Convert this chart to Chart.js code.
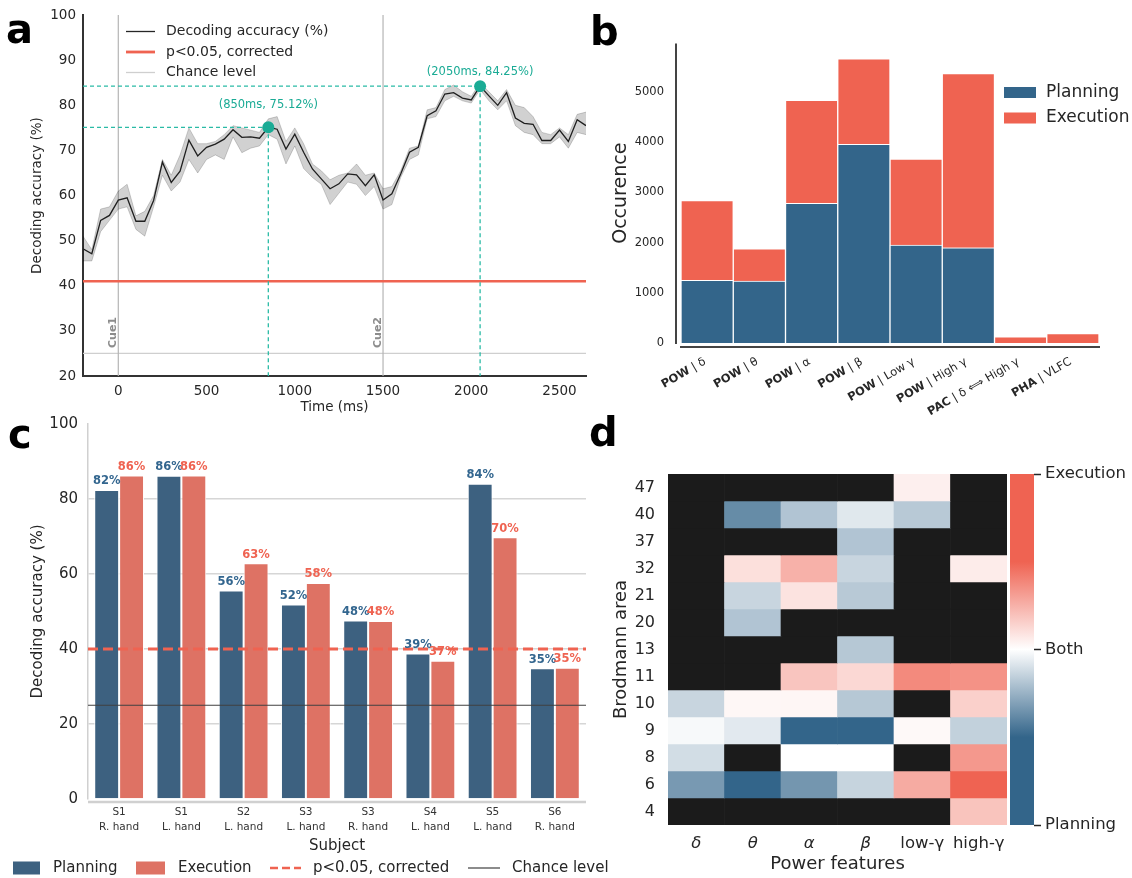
<!DOCTYPE html>
<html><head><meta charset="utf-8">
<script src="https://cdn.jsdelivr.net/npm/chart.js@4.4.1/dist/chart.umd.min.js"></script>
<style>
html,body{margin:0;padding:0;background:#fff;}
#wrap{position:relative;width:1132px;height:878px;overflow:hidden;background:#fff;}
canvas{position:absolute;}
.lt{position:absolute;font-family:'DejaVu Sans',sans-serif;font-weight:bold;font-size:40px;line-height:40px;color:#000;}
</style></head><body>
<div id="wrap">
<canvas id="ca" width="600" height="420" style="left:0;top:0"></canvas>
<canvas id="cb" width="532" height="420" style="left:600px;top:0"></canvas>
<canvas id="cc" width="630" height="473" style="left:0;top:405px"></canvas>
<canvas id="cd" width="532" height="448" style="left:600px;top:430px"></canvas>
<canvas id="ce" width="132" height="448" style="left:1000px;top:430px"></canvas>
<div class="lt" style="left:6px;top:9px">a</div>
<div class="lt" style="left:590px;top:11px">b</div>
<div class="lt" style="left:8px;top:414px">c</div>
<div class="lt" style="left:589px;top:412px">d</div>
</div>
<script>
// ---------- Panel a data ----------
const timeMs = [-200,-150,-100,-50,0,50,100,150,200,250,300,350,400,450,500,550,600,650,700,750,800,850,900,950,1000,1050,1100,1150,1200,1250,1300,1350,1400,1450,1500,1550,1600,1650,1700,1750,1800,1850,1900,1950,2000,2050,2100,2150,2200,2250,2300,2350,2400,2450,2500,2550,2600,2650];
const accMean = [48.2,47.1,54.5,55.6,59.0,59.5,54.3,54.3,58.9,67.4,62.9,65.4,72.3,68.8,70.7,71.4,72.5,74.6,72.9,73.0,72.7,75.12,74.7,70.3,73.6,69.6,65.9,63.7,61.5,62.6,64.8,64.6,62.2,64.6,59.0,60.4,64.8,69.6,70.7,77.7,78.8,82.5,82.8,81.6,81.2,84.25,82.1,80.0,82.8,77.2,76.0,75.8,72.2,72.2,74.5,72.0,76.8,75.5];
const accLower = [45.5,45.5,52,54.5,57,57.5,52.5,51,57.5,64.5,61,63,68,65,68,69,68,73,69.5,70.5,71,73.5,72.5,67,71,66,64,62.5,58,60.5,63,62.5,60,62,57,58,64,68,69,77,77.5,81,82,81,80.5,83.5,81,79,81,75.5,74,73.5,71.5,71.5,73,70.5,74,73.5];
const accUpper = [51,48,57,57.5,61,62.5,55.5,56.5,60,68,64.5,69,75,71.5,71.5,72,73.5,75.5,75,74.5,74,77,77.5,72,75,71.5,67,65.5,63.5,64.5,65,67,64.5,65,61.5,62,65.5,70.5,71,79,79.5,83.5,84.5,83,82,85,83,81,83.5,80,79.5,77.5,74,73.5,75,73.5,78,78.5];
const peakTimes = [850, 2050];
const peakValues = [75.12, 84.25];
const peakTextY = [80.1, 87.3];
const peakTexts = ['(850ms, 75.12%)', '(2050ms, 84.25%)'];
const cueTimes = [0, 1500];
const cueLabels = ['Cue1', 'Cue2'];
const sigLevelA = 41;
const chanceA = 25;
const aXTicks = [0, 500, 1000, 1500, 2000, 2500];
const aYTicks = [20, 30, 40, 50, 60, 70, 80, 90, 100];
const aLegend = ['Decoding accuracy (%)', 'p<0.05, corrected', 'Chance level'];

// ---------- Panel b data ----------
const bCatBold = ['POW','POW','POW','POW','POW','POW','PAC','PHA'];
const bCatRest = [' | δ',' | θ',' | α',' | β',' | Low γ',' | High γ',' | δ ⟺ High γ',' | VLFC'];
const bPlanning = [1248, 1235, 2785, 3960, 1953, 1899, 0, 0];
const bExecution = [1591, 644, 2054, 1704, 1711, 3470, 121, 188];
const bYTicks = [0, 1000, 2000, 3000, 4000, 5000];

// ---------- Panel c data ----------
const cSubjects = [['S1','R. hand'],['S1','L. hand'],['S2','L. hand'],['S3','L. hand'],['S3','R. hand'],['S4','L. hand'],['S5','L. hand'],['S6','R. hand']];
const cPlanning = [82.4, 86.2, 55.6, 51.9, 47.6, 38.8, 84.1, 34.9];
const cExecution = [86.3, 86.3, 62.9, 57.6, 47.5, 36.9, 69.8, 35.0];
const cYTicks = [0, 20, 40, 60, 80, 100];
const sigLevelC = 40;
const chanceC = 25;
const cLegend = ['Planning', 'Execution', 'p<0.05, corrected', 'Chance level'];

// ---------- Panel d data ----------
const dRows = ['47','40','37','32','21','20','13','11','10','9','8','6','4'];
const dCols = ['δ','θ','α','β','low-γ','high-γ'];
const dValues = [
  [null, null, null, null, 0.05, null],
  [null, -0.375, -0.19, -0.075, -0.175, null],
  [null, null, null, -0.19, null, null],
  [null, 0.1, 0.25, -0.135, null, 0.06],
  [null, -0.135, 0.09, -0.175, null, null],
  [null, -0.19, null, null, null, null],
  [null, null, null, -0.18, null, null],
  [null, null, 0.185, 0.125, 0.375, 0.35],
  [-0.135, 0.025, 0.03, -0.18, null, 0.15],
  [-0.02, -0.07, -0.5, -0.5, 0.02, -0.15],
  [-0.11, null, 0, 0, null, 0.33],
  [-0.33, -0.5, -0.34, -0.14, 0.27, 0.5],
  [null, null, null, null, null, 0.19]
];
const cbTicks = [-1, 0, 1];
const cbLabels = ['Planning', 'Both', 'Execution'];

// ---------- styles ----------
const FONT = "'DejaVu Sans', sans-serif";
Chart.defaults.font.family = FONT;
Chart.defaults.color = '#262626';
Chart.defaults.animation = false;
Chart.defaults.plugins.legend.display = false;
Chart.defaults.plugins.tooltip.enabled = false;
const BLUE = '#33658a', RED = '#ef6351', TEAL = '#1aab95', TEAL_L = '#2bbba6';
const C_BLUE = '#3d6180', C_RED = '#de7264';
const rgbBlue = [51,101,138], rgbWhite = [255,255,255], rgbRed = [239,99,82];
const plain = v => String(v);

function line(ctx, x1, y1, x2, y2, color, w, dash) {
  ctx.save(); ctx.beginPath(); ctx.strokeStyle = color; ctx.lineWidth = w;
  ctx.setLineDash(dash || []); ctx.moveTo(x1, y1); ctx.lineTo(x2, y2); ctx.stroke(); ctx.restore();
}
function text(ctx, s, x, y, font, color, align, base) {
  ctx.save(); ctx.font = font; ctx.fillStyle = color; ctx.textAlign = align || 'left';
  ctx.textBaseline = base || 'middle'; ctx.fillText(s, x, y); ctx.restore();
}
const fixTicks = arr => s => { s.ticks = arr.map(v => ({value: v})); };

// ---------- Panel a ----------
const pts = arr => timeMs.map((t, i) => ({x: t, y: arr[i]}));
const aPlugin = {
  id: 'aDecor',
  beforeDatasetsDraw(chart) {
    const {ctx, chartArea: a, scales: {x, y}} = chart;
    line(ctx, a.left, y.getPixelForValue(chanceA), a.right, y.getPixelForValue(chanceA), '#cfcfcf', 1.2);
    cueTimes.forEach(t => { const px = x.getPixelForValue(t); line(ctx, px, a.top, px, a.bottom, '#b5b5b5', 1.2); });
    line(ctx, a.left, y.getPixelForValue(sigLevelA), a.right, y.getPixelForValue(sigLevelA), RED, 2.5);
    cueTimes.forEach((t, i) => {
      const px = x.getPixelForValue(t);
      ctx.save(); ctx.translate(px - 5, a.bottom - 28); ctx.rotate(-Math.PI / 2);
      text(ctx, cueLabels[i], 0, 0, 'bold 11px ' + FONT, '#8c8c8c', 'left', 'middle'); ctx.restore();
    });
  },
  afterDatasetsDraw(chart) {
    const {ctx, chartArea: a, scales: {x, y}} = chart;
    peakTimes.forEach((t, i) => {
      const px = x.getPixelForValue(t), py = y.getPixelForValue(peakValues[i]);
      line(ctx, a.left, py, px, py, TEAL_L, 1.3, [4, 3]);
      line(ctx, px, py, px, a.bottom, TEAL_L, 1.3, [4, 3]);
    });
    peakTimes.forEach((t, i) => {
      const px = x.getPixelForValue(t), py = y.getPixelForValue(peakValues[i]);
      ctx.save(); ctx.beginPath(); ctx.fillStyle = TEAL; ctx.arc(px, py, 6, 0, Math.PI * 2); ctx.fill(); ctx.restore();
      text(ctx, peakTexts[i], px, y.getPixelForValue(peakTextY[i]), '11.5px ' + FONT, TEAL, 'center', 'middle');
    });
    const lx = a.left + 43, ys = [31.5, 52, 72.5];
    line(ctx, lx, ys[0], lx + 29, ys[0], '#262626', 1.3);
    line(ctx, lx, ys[1], lx + 29, ys[1], RED, 2.8);
    line(ctx, lx, ys[2], lx + 29, ys[2], '#cfcfcf', 1.3);
    aLegend.forEach((s, i) => text(ctx, s, lx + 40, ys[i], '14px ' + FONT, '#262626', 'left', 'middle'));
  }
};
new Chart(document.getElementById('ca'), {
  type: 'line',
  data: {datasets: [
    {data: pts(accUpper), borderWidth: 0.8, borderColor: 'rgba(0,0,0,0.22)', pointRadius: 0, fill: false},
    {data: pts(accLower), borderWidth: 0.8, borderColor: 'rgba(0,0,0,0.22)', pointRadius: 0, fill: '-1', backgroundColor: 'rgba(0,0,0,0.18)'},
    {data: pts(accMean), borderWidth: 1.3, borderColor: '#262626', pointRadius: 0, fill: false}
  ]},
  options: {
    responsive: false, devicePixelRatio: 1,
    layout: {padding: {left: 25, top: 14, right: 14, bottom: 0}},
    scales: {
      x: {type: 'linear', min: -200, max: 2650, afterBuildTicks: fixTicks(aXTicks), afterFit: s => { s.height = 44; },
        grid: {display: false, drawTicks: false}, border: {display: true, color: '#333', width: 2},
        ticks: {font: {size: 13.5}, padding: 7, color: '#262626', maxRotation: 0, callback: plain},
        title: {display: true, text: 'Time (ms)', font: {size: 13.5}, color: '#262626', padding: {top: 0, bottom: 4}}},
      y: {min: 20, max: 100, afterBuildTicks: fixTicks(aYTicks), afterFit: s => { s.width = 58; },
        grid: {display: false, drawTicks: false}, border: {display: true, color: '#333', width: 2},
        ticks: {font: {size: 13.5}, padding: 7, color: '#262626', callback: plain},
        title: {display: true, text: 'Decoding accuracy (%)', font: {size: 13.5}, color: '#262626', padding: {top: 4, bottom: 0}}}
    }
  },
  plugins: [aPlugin]
});

// ---------- Panel b ----------
const bPlugin = {
  id: 'bDecor',
  afterDraw(chart) {
    const {ctx, chartArea: a, scales: {x}} = chart;
    line(ctx, a.left - 5, a.top, a.left - 5, a.bottom + 1, '#444', 2);
    line(ctx, a.left - 1, a.bottom + 4, a.right + 1, a.bottom + 4, '#444', 2);
    bCatBold.forEach((b, i) => {
      const cx = x.getPixelForValue(i);
      ctx.save();
      ctx.translate(cx - 5, a.bottom + 13); ctx.rotate(-Math.PI / 6);
      ctx.textBaseline = 'top'; ctx.textAlign = 'left'; ctx.fillStyle = '#262626';
      ctx.font = 'bold 11.5px ' + FONT; const w1 = ctx.measureText(b).width;
      ctx.font = '11.5px ' + FONT; const w2 = ctx.measureText(bCatRest[i]).width;
      ctx.font = 'bold 11.5px ' + FONT; ctx.fillText(b, -(w1 + w2), 0);
      ctx.font = '11.5px ' + FONT; ctx.fillText(bCatRest[i], -w2, 0);
      ctx.restore();
    });
    const lx = 404, ys = [92.5, 118];
    [BLUE, RED].forEach((c, i) => { ctx.fillStyle = c; ctx.fillRect(lx, ys[i] - 5.5, 32, 11); });
    ['Planning', 'Execution'].forEach((s, i) => text(ctx, s, lx + 42, ys[i], '17px ' + FONT, '#262626', 'left', 'middle'));
  }
};
new Chart(document.getElementById('cb'), {
  type: 'bar',
  data: {labels: bCatBold.map((b, i) => b + bCatRest[i]), datasets: [
    {label: 'Planning', data: bPlanning, backgroundColor: BLUE, borderColor: '#fff', borderWidth: 1, barPercentage: 1, categoryPercentage: 1},
    {label: 'Execution', data: bExecution, backgroundColor: RED, borderColor: '#fff', borderWidth: 1, barPercentage: 1, categoryPercentage: 1}
  ]},
  options: {
    responsive: false, devicePixelRatio: 1,
    layout: {padding: {left: 10, top: 43.5, right: 33, bottom: 0}},
    scales: {
      x: {stacked: true, afterFit: s => { s.height = 77; }, ticks: {display: false}, grid: {display: false, drawTicks: false}, border: {display: false}},
      y: {stacked: true, min: 0, max: 5970, afterBuildTicks: fixTicks(bYTicks), afterFit: s => { s.width = 71; },
        grid: {display: false, drawTicks: false}, border: {display: false},
        ticks: {font: {size: 11.5}, padding: 17, color: '#262626', callback: plain},
        title: {display: true, text: 'Occurence', font: {size: 19}, color: '#262626', padding: {top: 0, bottom: 0}}}
    }
  },
  plugins: [bPlugin]
});

// ---------- Panel c ----------
const cPlugin = {
  id: 'cDecor',
  afterDatasetsDraw(chart) {
    const {ctx, chartArea: a, scales: {y}} = chart;
    line(ctx, a.left, a.bottom + 3, a.right, a.bottom + 3, '#d0d0d0', 2.5);
    line(ctx, a.left, y.getPixelForValue(chanceC), a.right, y.getPixelForValue(chanceC), '#404040', 1.2);
    line(ctx, a.left, y.getPixelForValue(sigLevelC), a.right, y.getPixelForValue(sigLevelC), RED, 3, [10, 5]);
    const vals = [cPlanning, cExecution], cols = ['#33668f', RED];
    [0, 1].forEach(d => {
      chart.getDatasetMeta(d).data.forEach((el, i) => {
        text(ctx, Math.round(vals[d][i]) + '%', el.x, el.y - 8.5, 'bold 11.5px ' + FONT, cols[d], 'center', 'middle');
      });
    });
    const ly = 463;
    ctx.fillStyle = C_BLUE; ctx.fillRect(13, ly - 6.5, 27, 13);
    ctx.fillStyle = C_RED; ctx.fillRect(136, ly - 6.5, 29, 13);
    line(ctx, 270, ly, 301, ly, RED, 2.5, [8, 4]);
    line(ctx, 468, ly, 500, ly, '#404040', 1.2);
    const lxs = [53, 178, 313, 512];
    cLegend.forEach((s, i) => text(ctx, s, lxs[i], ly, '15px ' + FONT, '#262626', 'left', 'middle'));
  }
};
new Chart(document.getElementById('cc'), {
  type: 'bar',
  data: {labels: cSubjects, datasets: [
    {label: 'Planning', data: cPlanning, backgroundColor: C_BLUE, borderColor: '#fff', borderWidth: 1, barPercentage: 1, categoryPercentage: 0.8},
    {label: 'Execution', data: cExecution, backgroundColor: C_RED, borderColor: '#fff', borderWidth: 1, barPercentage: 1, categoryPercentage: 0.8}
  ]},
  options: {
    responsive: false, devicePixelRatio: 1,
    layout: {padding: {left: 25, top: 10, right: 44, bottom: 0}},
    scales: {
      x: {afterFit: s => { s.height = 79; }, grid: {display: false, drawTicks: false}, border: {display: false},
        ticks: {font: {size: 10.5, lineHeight: 1.4}, color: '#333', padding: 6, maxRotation: 0, autoSkip: false},
        title: {display: true, text: 'Subject', font: {size: 15}, color: '#262626', padding: {top: 0, bottom: 23}}},
      y: {min: 0, max: 100, afterBuildTicks: fixTicks(cYTicks), afterFit: s => { s.width = 63; },
        grid: {drawTicks: false, lineWidth: 1.5, color: c => (c.tick && c.tick.value > 0 && c.tick.value < 100) ? '#d6d6d6' : 'rgba(0,0,0,0)'},
        border: {display: true, color: '#d0d0d0', width: 1.5},
        ticks: {font: {size: 15}, padding: 10, color: '#262626', callback: plain},
        title: {display: true, text: 'Decoding accuracy (%)', font: {size: 15}, color: '#262626', padding: {top: 4, bottom: 0}}}
    }
  },
  plugins: [cPlugin]
});

// ---------- Panel d ----------
function lerp(a, b, t) { return a.map((v, i) => Math.round(v + (b[i] - v) * t)); }
function cmap(v) {
  if (v === null) return '#1b1b1b';
  let c;
  if (v <= -0.5) c = rgbBlue;
  else if (v < 0) c = lerp(rgbWhite, rgbBlue, -v / 0.5);
  else if (v < 0.5) c = lerp(rgbWhite, rgbRed, v / 0.5);
  else c = rgbRed;
  return 'rgb(' + c.join(',') + ')';
}
new Chart(document.getElementById('cd'), {
  type: 'bar',
  data: {labels: dCols, datasets: dRows.map((r, ri) => ({
    label: r, data: dCols.map(() => [ri, ri + 1]), backgroundColor: dValues[ri].map(cmap),
    borderWidth: 0, barPercentage: 1, categoryPercentage: 1, grouped: false
  }))},
  options: {
    responsive: false, devicePixelRatio: 1,
    layout: {padding: {left: 7, top: 44, right: 125, bottom: 0}},
    scales: {
      x: {afterFit: s => { s.height = 53; }, grid: {display: false, drawTicks: false}, border: {display: false},
        ticks: {font: c => ({size: 16.5, style: c.index < 4 ? 'italic' : 'normal'}), padding: 9, color: '#262626', maxRotation: 0},
        title: {display: true, text: 'Power features', font: {size: 18}, color: '#262626', padding: {top: 0, bottom: 2.5}}},
      y: {min: 0, max: 13, reverse: true, afterBuildTicks: s => { s.ticks = dRows.map((_, i) => ({value: i + 0.5})); },
        afterFit: s => { s.width = 61; }, grid: {display: false, drawTicks: false}, border: {display: false},
        ticks: {font: {size: 16}, padding: 13, color: '#262626', callback: (v, i) => dRows[i]},
        title: {display: true, text: 'Brodmann area', font: {size: 18}, color: '#262626', padding: {top: 4, bottom: 0}}}
    }
  }
});

new Chart(document.getElementById('ce'), {
  type: 'bar',
  data: {labels: [''], datasets: [{data: [[-1, 1]], borderWidth: 0, barPercentage: 1, categoryPercentage: 1,
    backgroundColor: c => {
      const a = c.chart.chartArea; if (!a) return BLUE;
      const g = c.chart.ctx.createLinearGradient(0, a.bottom, 0, a.top);
      g.addColorStop(0, cmap(-1)); g.addColorStop(0.25, cmap(-0.5)); g.addColorStop(0.375, cmap(-0.25));
      g.addColorStop(0.5, cmap(0)); g.addColorStop(0.625, cmap(0.25)); g.addColorStop(0.75, cmap(0.5)); g.addColorStop(1, cmap(1));
      return g;
    }}]},
  options: {
    responsive: false, devicePixelRatio: 1,
    layout: {padding: {left: 10, top: 44, right: 0, bottom: 53}},
    scales: {
      x: {display: false},
      y: {position: 'right', min: -1, max: 1, afterBuildTicks: fixTicks(cbTicks), afterFit: s => { s.width = 98; },
        grid: {drawOnChartArea: false, drawTicks: true, tickLength: 7, tickColor: '#262626', tickWidth: 1.5},
        border: {display: false},
        ticks: {font: {size: 16.5}, padding: 4, color: '#262626', callback: (v, i) => cbLabels[i]}}
    }
  }
});
</script>
</body></html>
